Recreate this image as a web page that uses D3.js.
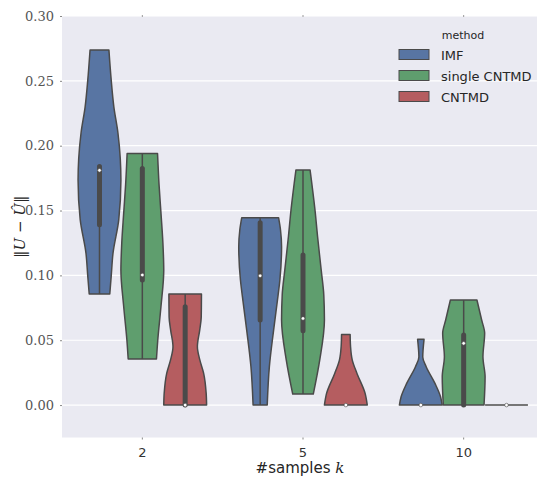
<!DOCTYPE html>
<html>
<head>
<meta charset="utf-8">
<script src="https://cdn.jsdelivr.net/npm/d3@7"></script>
<style>
  body { margin: 0; background: #fff; }
  svg { display: block; }
</style>
</head>
<body>
<script>
// categories and hue levels
var samples = ["2", "5", "10"];
var methods = ["IMF", "single CNTMD", "CNTMD"];
var yTicks = [0.00, 0.05, 0.10, 0.15, 0.20, 0.25, 0.30];

// violin outlines: [value, relative half width]
var imf2 = [[0.0856, 0.48], [0.10, 0.55], [0.117, 0.63], [0.143, 0.90], [0.1735, 1.0], [0.19, 0.97], [0.21, 0.86], [0.23, 0.67], [0.25, 0.55], [0.2738, 0.44]];
var single2 = [[0.0355, 0.66], [0.05, 0.72], [0.076, 0.87], [0.104, 1.0], [0.125, 0.96], [0.148, 0.87], [0.17, 0.78], [0.194, 0.71]];
var cntmd2 = [[0, 1.0], [0.009, 0.98], [0.0247, 0.86], [0.035, 0.68], [0.045, 0.57], [0.058, 0.68], [0.068, 0.75], [0.0856, 0.76]];
var imf5 = [[0, 0.33], [0.0296, 0.43], [0.058, 0.63], [0.08, 0.80], [0.0964, 0.92], [0.122, 1.0], [0.135, 0.95], [0.1445, 0.86]];
var single5 = [[0.0085, 0.48], [0.0347, 0.78], [0.0656, 1.0], [0.085, 0.97], [0.104, 0.85], [0.13, 0.68], [0.1504, 0.56], [0.1813, 0.33]];
var cntmd5 = [[0, 1.0], [0.009, 0.90], [0.0244, 0.52], [0.0347, 0.30], [0.045, 0.22], [0.0545, 0.20]];
var imf10 = [[0, 1.0], [0.0064, 0.92], [0.0167, 0.66], [0.0296, 0.25], [0.037, 0.09], [0.0507, 0.15]];
var single10 = [[0, 0.95], [0.0218, 1.0], [0.0373, 0.90], [0.0553, 0.98], [0.0656, 0.84], [0.081, 0.62]];
var cntmd10 = [[0, 1.0]];

// inner box stats: [low whisker, q1, median, q3, high whisker]
var imf2Box = [0.0856, 0.139, 0.181, 0.184, 0.184];
var single2Box = [0.0355, 0.0964, 0.1003, 0.1825, 0.194];
var cntmd2Box = [0, 0, 0, 0.0758, 0.0856];
var imf5Box = [0, 0.0656, 0.0997, 0.1406, 0.1445];
var single5Box = [0.0085, 0.0573, 0.0668, 0.1157, 0.1813];
var cntmd5Box = [0, 0, 0, 0, 0];
var imf10Box = [0, 0, 0, 0, 0];
var single10Box = [0, 0, 0.0476, 0.054, 0.081];
var cntmd10Box = [0, 0, 0, 0, 0];

var violins = [
    { k: "2", m: "IMF", shape: imf2, box: imf2Box },
    { k: "2", m: "single CNTMD", shape: single2, box: single2Box },
    { k: "2", m: "CNTMD", shape: cntmd2, box: cntmd2Box },
    { k: "5", m: "IMF", shape: imf5, box: imf5Box },
    { k: "5", m: "single CNTMD", shape: single5, box: single5Box },
    { k: "5", m: "CNTMD", shape: cntmd5, box: cntmd5Box },
    { k: "10", m: "IMF", shape: imf10, box: imf10Box },
    { k: "10", m: "single CNTMD", shape: single10, box: single10Box },
    { k: "10", m: "CNTMD", shape: cntmd10, box: cntmd10Box }
];

var width = 537, height = 481;
var plot = { left: 62, right: 544, top: 16, bottom: 437.5 };
var gray = "#4a4a4a";

var svg = d3.select("body").append("svg")
    .attr("width", width)
    .attr("height", height);

var x = d3.scaleBand()
    .domain(samples)
    .range([plot.left, plot.right]);

var hue = d3.scaleBand()
    .domain(methods)
    .range([0.1 * x.bandwidth(), 0.9 * x.bandwidth()]);

var y = d3.scaleLinear()
    .domain([-0.025, 0.30])
    .range([plot.bottom, plot.top]);

var color = d3.scaleOrdinal()
    .domain(methods)
    .range(["#5875a3", "#5f9e6e", "#b55d60"]);

// background
svg.append("rect")
    .attr("x", plot.left)
    .attr("y", plot.top)
    .attr("width", plot.right - plot.left)
    .attr("height", plot.bottom - plot.top)
    .attr("fill", "#eaeaf2");

// grid lines
svg.append("g")
    .selectAll("line")
    .data(yTicks)
    .enter()
    .append("line")
    .attr("x1", plot.left)
    .attr("x2", plot.right)
    .attr("y1", function (d) { return y(d); })
    .attr("y2", function (d) { return y(d); })
    .attr("stroke", "#fff")
    .attr("stroke-width", 1.2);

// y axis
var yAxis = svg.append("g")
    .attr("transform", "translate(" + plot.left + ",0)")
    .call(d3.axisLeft(y).tickValues(yTicks).tickFormat(d3.format(".2f")).tickSize(2).tickPadding(6));
yAxis.select(".domain").remove();
yAxis.selectAll(".tick line").attr("stroke", "#888");
yAxis.selectAll("text")
    .attr("fill", "#555")
    .style("font-family", "'DejaVu Serif', serif")
    .style("font-size", "13px");

// x axis
var xAxis = svg.append("g")
    .attr("transform", "translate(0," + plot.bottom + ")")
    .call(d3.axisBottom(x).tickSize(2).tickPadding(8));
xAxis.select(".domain").remove();
xAxis.selectAll(".tick line").attr("stroke", "#888");
xAxis.selectAll("text")
    .attr("fill", "#333")
    .style("font-family", "'DejaVu Sans', sans-serif")
    .style("font-size", "13px");

// little top ticks
svg.append("g")
    .selectAll("line")
    .data(samples)
    .enter()
    .append("line")
    .attr("x1", function (d) { return x(d) + x.bandwidth() / 2; })
    .attr("x2", function (d) { return x(d) + x.bandwidth() / 2; })
    .attr("y1", plot.top - 1)
    .attr("y2", plot.top + 1)
    .attr("stroke", "#999");

// violins
var halfW = hue.bandwidth() / 2;

var g = svg.append("g");
violins.forEach(function (v) {
    var cx = x(v.k) + hue(v.m) + halfW;
    if (v.shape.length > 1) {
        var area = d3.area()
            .curve(d3.curveMonotoneY)
            .y(function (d) { return y(d[0]); })
            .x0(function (d) { return cx - halfW * d[1]; })
            .x1(function (d) { return cx + halfW * d[1]; });
        g.append("path")
            .datum(v.shape)
            .attr("d", area)
            .attr("fill", color(v.m))
            .attr("stroke", gray)
            .attr("stroke-width", 1.5)
            .attr("stroke-linejoin", "round");
    } else {
        g.append("line")
            .attr("x1", cx - halfW * v.shape[0][1])
            .attr("x2", cx + halfW * v.shape[0][1])
            .attr("y1", y(v.shape[0][0]))
            .attr("y2", y(v.shape[0][0]))
            .attr("stroke", gray)
            .attr("stroke-width", 1.5);
    }
    var b = v.box;
    g.append("line")
        .attr("x1", cx).attr("x2", cx)
        .attr("y1", y(b[0])).attr("y2", y(b[4]))
        .attr("stroke", gray)
        .attr("stroke-width", 1.5);
    g.append("line")
        .attr("x1", cx).attr("x2", cx)
        .attr("y1", y(b[1])).attr("y2", y(b[3]))
        .attr("stroke", gray)
        .attr("stroke-width", 5)
        .attr("stroke-linecap", b[3] > b[1] ? "round" : "butt");
    g.append("circle")
        .attr("cx", cx)
        .attr("cy", y(b[2]))
        .attr("r", 1.8)
        .attr("fill", "#fff")
        .attr("stroke", gray)
        .attr("stroke-width", 0.6);
});

// axis labels
svg.append("text")
    .attr("x", 300)
    .attr("y", 473)
    .attr("text-anchor", "middle")
    .attr("fill", "#262626")
    .style("font-size", "15px")
    .html("<tspan style=\"font-family:'DejaVu Serif',serif\">#</tspan><tspan style=\"font-family:'DejaVu Sans',sans-serif\">samples </tspan><tspan style=\"font-family:'DejaVu Serif',serif;font-style:italic\">k</tspan>");

svg.append("text")
    .attr("transform", "translate(25," + ((plot.top + plot.bottom) / 2) + ") rotate(-90)")
    .attr("text-anchor", "middle")
    .attr("fill", "#262626")
    .style("font-family", "'DejaVu Serif', serif")
    .style("font-size", "15px")
    .html("‖<tspan font-style=\"italic\">U</tspan> − <tspan font-style=\"italic\">Û</tspan>‖");

// legend
var legend = svg.append("g").attr("transform", "translate(399,0)");
legend.append("text")
    .attr("x", 64)
    .attr("y", 39)
    .attr("text-anchor", "middle")
    .attr("fill", "#262626")
    .style("font-family", "'DejaVu Sans', sans-serif")
    .style("font-size", "11px")
    .text("method");
var rows = legend.selectAll(".row")
    .data(methods)
    .enter()
    .append("g")
    .attr("transform", function (d, i) { return "translate(0," + (54.5 + i * 21) + ")"; });
rows.append("rect")
    .attr("x", 0)
    .attr("y", -5)
    .attr("width", 30)
    .attr("height", 10)
    .attr("fill", function (d) { return color(d); })
    .attr("stroke", gray)
    .attr("stroke-width", 1);
rows.append("text")
    .attr("x", 42)
    .attr("y", 5)
    .attr("fill", "#262626")
    .style("font-family", "'DejaVu Sans', sans-serif")
    .style("font-size", "13px")
    .text(function (d) { return d; });
</script>
</body>
</html>
